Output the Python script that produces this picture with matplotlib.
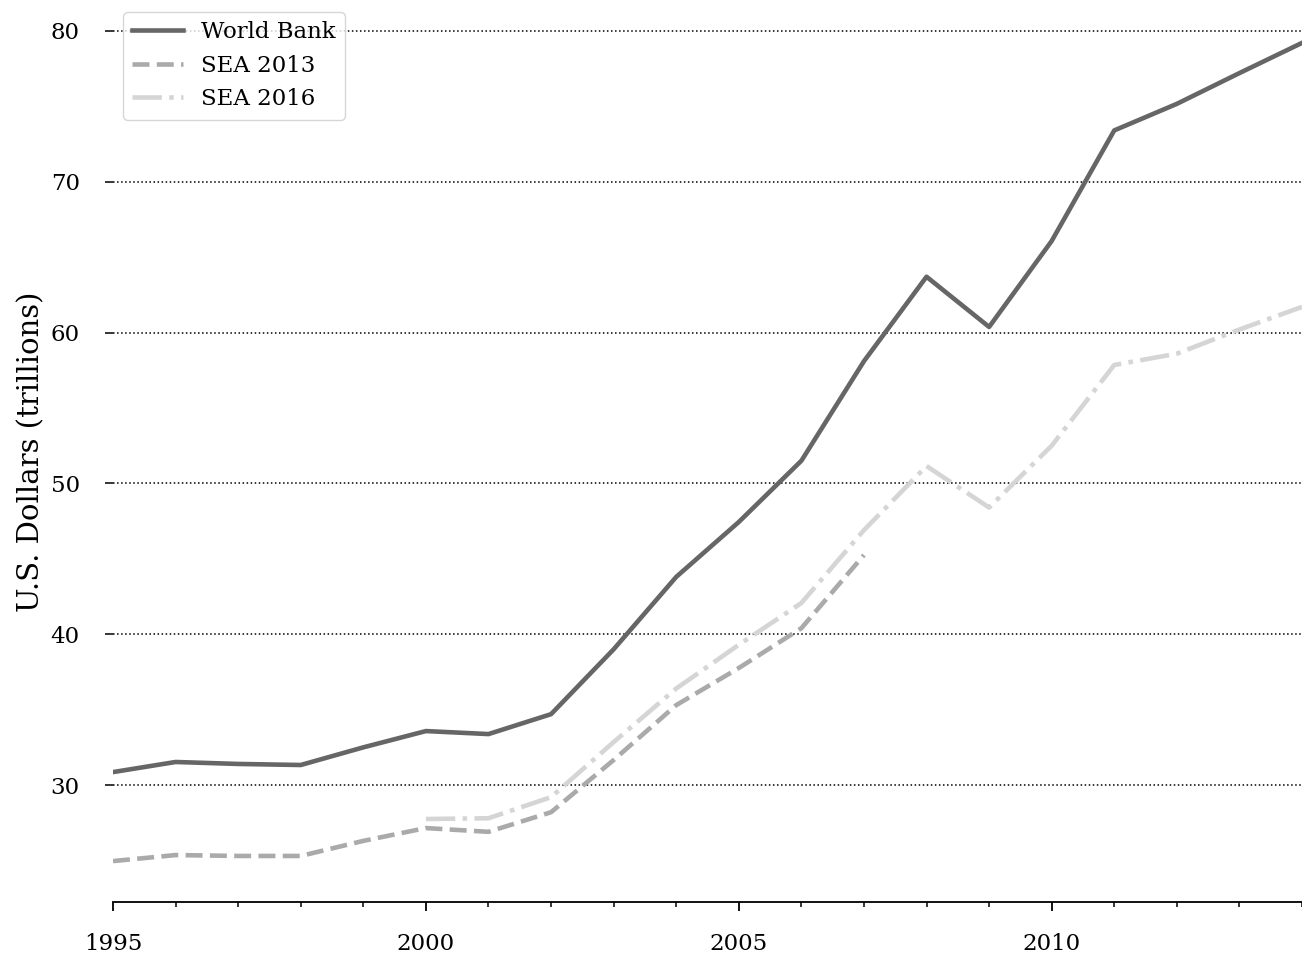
import matplotlib
matplotlib.use("Agg")
import matplotlib.pyplot as plt
from matplotlib.ticker import MultipleLocator

plt.rcParams['font.family'] = ['DejaVu Serif']

# GDP estimates, trillions of U.S. dollars
years = list(range(1995, 2015))
world_bank = [30.86, 31.53, 31.40, 31.33, 32.50, 33.58, 33.38, 34.70, 39.00, 43.80,
              47.44, 51.50, 58.10, 63.70, 60.37, 66.07, 73.40, 75.16, 77.20, 79.20]

sea2013_years = list(range(1995, 2008))
sea2013 = [24.96, 25.36, 25.30, 25.30, 26.30, 27.15, 26.90, 28.20, 31.66, 35.30,
           37.76, 40.40, 45.25]

sea2016_years = list(range(2000, 2015))
sea2016 = [27.75, 27.80, 29.20, 32.85, 36.40, 39.30, 42.07, 46.90, 51.15, 48.40,
           52.50, 57.85, 58.60, 60.20, 61.70]

fig = plt.figure(figsize=(13.02, 9.55), dpi=100)
ax = fig.add_axes([0.0868, 0.0555, 0.9132, 0.9424])

ax.plot(years, world_bank, color='#666666', lw=3.3, label='World Bank')
ax.plot(sea2013_years, sea2013, color='#aaaaaa', lw=3.3, ls='--', label='SEA 2013')
ax.plot(sea2016_years, sea2016, color='#d5d5d5', lw=3.3, ls='-.', label='SEA 2016')

ax.set_xlim(1995, 2014)
ax.margins(x=0, y=0.05)
ax.xaxis.set_major_locator(MultipleLocator(5))
ax.xaxis.set_minor_locator(MultipleLocator(1))
ax.yaxis.set_major_locator(MultipleLocator(10))

ax.grid(axis='y', color='black', ls=':', lw=1.1)
ax.set_axisbelow(True)

for side in ['top', 'right', 'left']:
    ax.spines[side].set_visible(False)
ax.spines['bottom'].set_linewidth(1.3)

ax.tick_params(axis='x', which='major', length=6.5, width=1.3, pad=16, labelsize=16.5)
ax.tick_params(axis='x', which='minor', length=3.5, width=1.1)
ax.tick_params(axis='y', length=6, width=1.1, pad=18, labelsize=16.5)

ax.set_ylabel('U.S. Dollars (trillions)', fontsize=21, labelpad=4)

leg = ax.legend(loc='upper left', fontsize=16.5, handlelength=2.2, frameon=True,
                borderaxespad=0.45)
leg.get_frame().set_edgecolor('#cccccc')

fig.savefig('out.png', dpi=100)
